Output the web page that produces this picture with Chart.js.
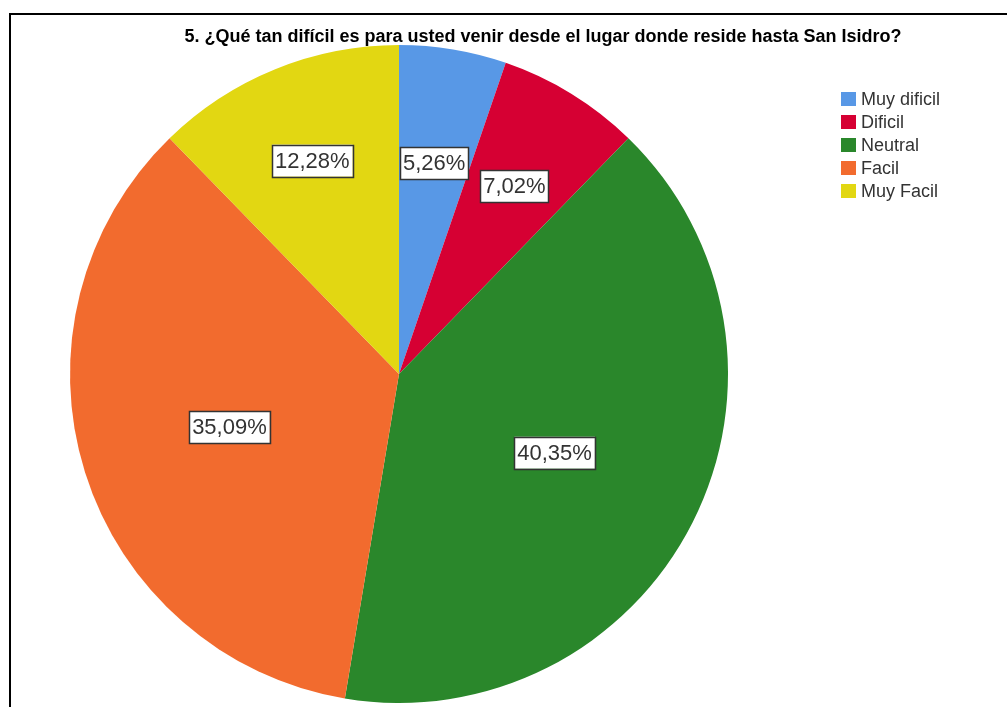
<!DOCTYPE html>
<html>
<head>
<meta charset="utf-8">
<script src="https://cdn.jsdelivr.net/npm/chart.js@4/dist/chart.umd.min.js"></script>
<style>
  html, body { margin: 0; padding: 0; background: #fff; }
  #wrap { width: 1007px; height: 707px; position: relative; }
</style>
</head>
<body>
<div id="wrap"><canvas id="myPie" width="1007" height="707"></canvas></div>
<script>
/* global Chart */
const title = '5. ¿Qué tan difícil es para usted venir desde el lugar donde reside hasta San Isidro?';
const labels = ['Muy dificil', 'Dificil', 'Neutral', 'Facil', 'Muy Facil'];
const percents = [5.26, 7.02, 40.35, 35.09, 12.28];
const colors = ['#5898e6', '#d60033', '#2a872b', '#f26b2e', '#e2d712'];
// how far out each value box sits, as a share of the radius
const labelRadius = [0.65, 0.67, 0.53, 0.54, 0.70];

const fontName = '"Liberation Sans", Arial, sans-serif';

function fmt (v) {
  return v.toFixed(2).replace('.', ',') + '%';
}

// frame, title and legend drawn like the SPSS output
const decor = {
  id: 'decor',
  beforeDraw (chart) {
    const c = chart.ctx;
    c.save();
    c.fillStyle = '#fff';
    c.fillRect(0, 0, chart.width, chart.height);
    c.fillStyle = '#000';
    c.fillRect(9, 13, chart.width, 2);
    c.fillRect(9, 13, 2, chart.height);
    c.restore();
  },
  afterDraw (chart) {
    const c = chart.ctx;
    c.save();
    c.fillStyle = '#000';
    c.font = 'bold 18px ' + fontName;
    c.textAlign = 'center';
    c.textBaseline = 'alphabetic';
    c.fillText(title, 543, 42);

    c.font = '18px ' + fontName;
    c.textAlign = 'left';
    c.textBaseline = 'middle';
    const ds = chart.data.datasets[0];
    chart.data.labels.forEach(function (lab, i) {
      const y = 92 + i * 23;
      c.fillStyle = ds.backgroundColor[i];
      c.fillRect(841, y, 15, 14);
      c.fillStyle = '#333';
      c.fillText(lab, 861, y + 8);
    });

    // value boxes
    const meta = chart.getDatasetMeta(0);
    c.font = '22px ' + fontName;
    c.textAlign = 'center';
    meta.data.forEach(function (arc, i) {
      const p = arc.getProps(['x', 'y', 'startAngle', 'endAngle', 'outerRadius']);
      const mid = (p.startAngle + p.endAngle) / 2;
      const r = p.outerRadius * labelRadius[i];
      const x = p.x + Math.cos(mid) * r;
      const y = p.y + Math.sin(mid) * r;
      const txt = fmt(ds.data[i]);
      const w = c.measureText(txt).width + 6;
      const h = 32;
      c.fillStyle = '#fff';
      c.fillRect(x - w / 2, y - h / 2, w, h);
      c.strokeStyle = '#333';
      c.lineWidth = 1.5;
      c.strokeRect(Math.round(x - w / 2) + 0.5, Math.round(y - h / 2) + 0.5, Math.round(w), h);
      c.fillStyle = '#333';
      c.fillText(txt, x, y + 1);
    });
    c.restore();
  }
};

new Chart(document.getElementById('myPie'), {
  type: 'pie',
  data: {
    labels: labels,
    datasets: [{
      data: percents,
      backgroundColor: colors,
      borderWidth: 0
    }]
  },
  options: {
    responsive: false,
    animation: false,
    layout: { padding: { left: 70, right: 279, top: 45, bottom: 4 } },
    plugins: {
      legend: { display: false },
      title: { display: false },
      tooltip: { enabled: false }
    }
  },
  plugins: [decor]
});
</script>
</body>
</html>
